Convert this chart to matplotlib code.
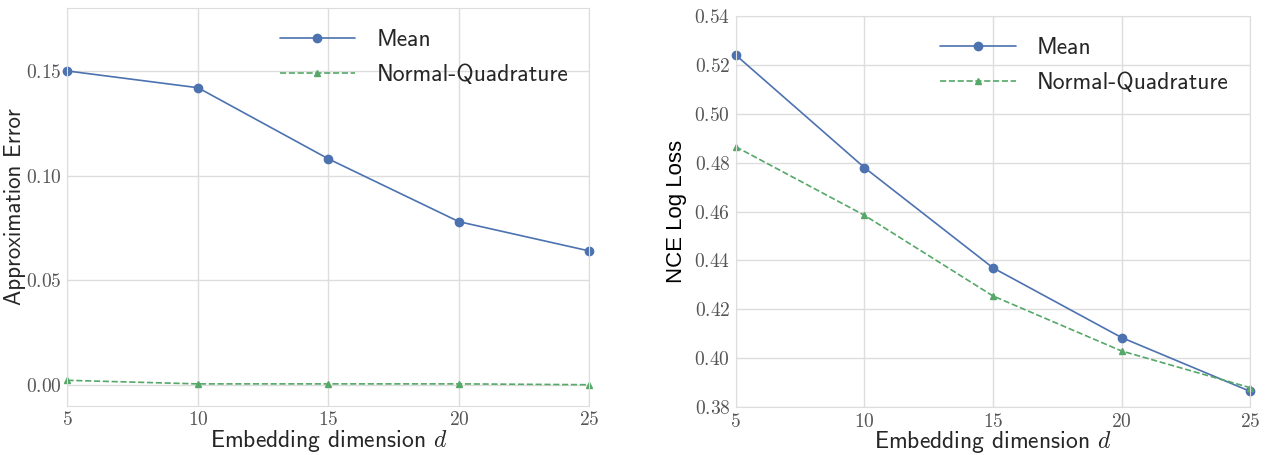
import matplotlib
matplotlib.use("Agg")
from matplotlib import pyplot as plt
import seaborn as sns
import numpy as np

sns.set_style("whitegrid")
plt.rcParams['font.family'] = ['cmss10', 'DejaVu Sans']
plt.rcParams['mathtext.fontset'] = 'cm'
plt.rcParams['axes.unicode_minus'] = False

dims = [5, 10, 15, 20, 25]

# left panel: approximation error
err_mean = [0.150, 0.142, 0.108, 0.078, 0.064]
err_nq = [0.0022, 0.0005, 0.0005, 0.0005, 0.0001]

# right panel: NCE log loss
nce_mean = [0.524, 0.478, 0.437, 0.4085, 0.3865]
nce_nq = [0.4865, 0.4585, 0.4255, 0.403, 0.388]

blue = '#4c72b0'
green = '#55a868'
txt = '#262626'

fig = plt.figure(figsize=(12.73, 4.55), dpi=100)
ax1 = fig.add_axes([0.053, 0.108, 0.410, 0.874])
ax2 = fig.add_axes([0.578, 0.105, 0.404, 0.860])


def style(ax, yticks, fmt):
    ax.set_xlim(5, 25)
    ax.set_xticks(dims)
    ax.set_xticklabels(['$%d$' % v for v in dims], fontsize=14, color='#555555')
    ax.set_yticks(yticks)
    ax.set_yticklabels(['$%s$' % (fmt % v) for v in yticks], fontsize=14, color='#555555')
    for s in ax.spines.values():
        s.set_color('#dddddd')
    ax.grid(color='#dddddd', linewidth=1)
    ax.tick_params(length=0, pad=4)
    ax.set_xlabel('Embedding dimension $d$', fontsize=17, color=txt, labelpad=-1)
    leg = ax.legend(loc='upper right', frameon=False, fontsize=17,
                    bbox_to_anchor=(1.0, 1.0), handlelength=3.2,
                    handletextpad=0.9, labelspacing=0.55)
    for t in leg.get_texts():
        t.set_color(txt)


ax1.plot(dims, err_mean, '-o', color=blue, lw=1.2, ms=6, label='Mean', clip_on=False)
ax1.plot(dims, err_nq, '--^', color=green, lw=1.2, ms=5, label='Normal-Quadrature', clip_on=False)
ax1.set_ylim(-0.01, 0.18)
style(ax1, [0.0, 0.05, 0.10, 0.15], '%.2f')
ax1.set_ylabel('Approximation Error', fontsize=16.5, color=txt, labelpad=0)

ax2.plot(dims, nce_mean, '-o', color=blue, lw=1.2, ms=6, label='Mean', clip_on=False)
ax2.plot(dims, nce_nq, '--^', color=green, lw=1.2, ms=5, label='Normal-Quadrature', clip_on=False)
ax2.set_ylim(0.38, 0.54)
style(ax2, [0.38, 0.40, 0.42, 0.44, 0.46, 0.48, 0.50, 0.52, 0.54], '%.2f')
ax2.set_ylabel('NCE Log Loss', fontsize=16, color='black', labelpad=5,
               family=['Liberation Sans'])

fig.savefig('out.png', dpi=100)
